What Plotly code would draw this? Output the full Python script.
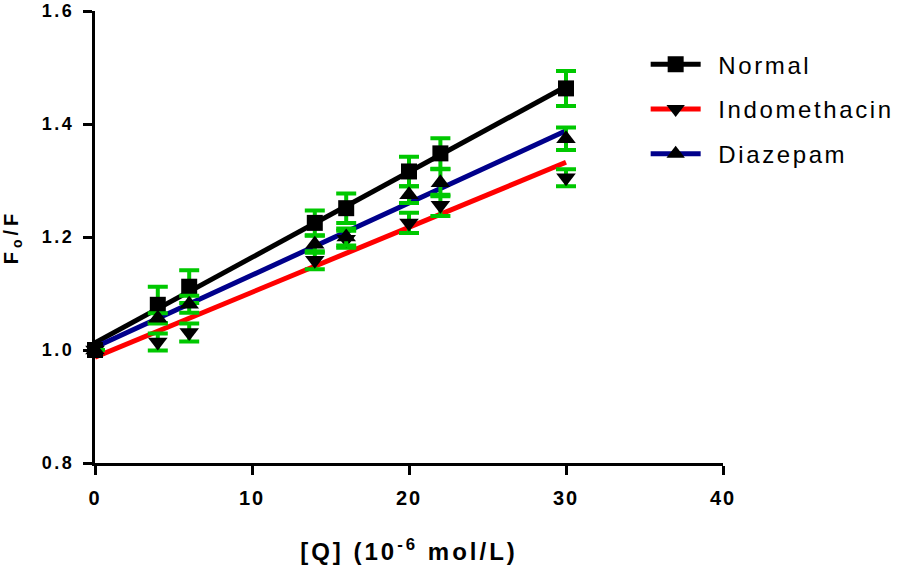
import numpy as np
import plotly.graph_objects as go

# ---- data ----
conc = [0, 4, 6, 14, 16, 20, 22, 30]
normal = [1.000, 1.080, 1.112, 1.225, 1.251, 1.316, 1.348, 1.463]
normal_err = [0, 0.032, 0.029, 0.022, 0.026, 0.026, 0.027, 0.031]
indo = [1.000, 1.014, 1.031, 1.159, 1.196, 1.225, 1.256, 1.305]
indo_err = [0, 0.015, 0.016, 0.016, 0.015, 0.018, 0.019, 0.015]
diaz = [1.000, 1.056, 1.081, 1.187, 1.200, 1.275, 1.296, 1.374]
diaz_err = [0, 0.009, 0.015, 0.015, 0.015, 0.015, 0.024, 0.020]

series_names = ["Normal", "Indomethacin", "Diazepam"]
series_values = [normal, indo, diaz]
series_errors = [normal_err, indo_err, diaz_err]
series_colors = ["#000000", "#FF0000", "#00008B"]
series_symbols = ["square", "triangle-down", "triangle-up"]

x_ticks = [0, 10, 20, 30, 40]
y_ticks = [0.8, 1.0, 1.2, 1.4, 1.6]
x_ticklabels = ["0", "10", "20", "30", "40"]
y_ticklabels = ["0.8", "1.0", "1.2", "1.4", "1.6"]

ERR_GREEN = "rgb(0,200,0)"
FONT = "Liberation Sans, Arial, sans-serif"


def spaced(t, px):
    return f'<span style="letter-spacing:{px}px">{t}</span>'


fig = go.Figure()

# fitted regression lines
xfit = np.array([min(conc), max(conc)], dtype=float)
for name, vals, col in zip(series_names, series_values, series_colors):
    slope, icpt = np.polyfit(conc, vals, 1)
    fig.add_trace(go.Scatter(
        x=xfit, y=slope * xfit + icpt, mode="lines",
        line=dict(color=col, width=5), showlegend=False,
        hoverinfo="skip", cliponaxis=False))

# data points with error bars
for name, vals, errs, sym in zip(series_names, series_values, series_errors, series_symbols):
    fig.add_trace(go.Scatter(
        x=conc, y=vals, mode="markers", name=name, showlegend=False,
        marker=dict(symbol=sym, size=16 if sym == "square" else 17, color="black",
                    line=dict(width=0)),
        error_y=dict(type="data", array=errs, visible=True, color=ERR_GREEN,
                     thickness=4, width=10),
        cliponaxis=False))

# legend entries
for i, (name, col, sym) in enumerate(zip(series_names, series_colors, series_symbols)):
    fig.add_trace(go.Scatter(
        x=[None], y=[None], mode="lines+markers",
        name='<span style="letter-spacing:6px">&nbsp;</span>' + spaced(name, 2.6),
        legendgroup=f"g{i}",
        line=dict(color=col, width=5),
        marker=dict(symbol=sym, size=16 if sym == "square" else 17, color="black")))

axis_common = dict(
    showline=True, linecolor="black", linewidth=3,
    ticks="outside", ticklen=9, tickwidth=3, tickcolor="black",
    showgrid=False, zeroline=False, mirror=False, automargin=False,
    ticklabeloverflow="allow",
)

fig.update_xaxes(
    range=[0, 40], tickvals=x_ticks,
    ticktext=[spaced(t, 2) for t in x_ticklabels],
    tickfont=dict(family=FONT, size=20, color="black", weight="bold"),
    ticklabelstandoff=6,
    title=dict(text=spaced("[Q] (10<sup>-6</sup> mol/L)", 3),
               font=dict(family=FONT, size=24, color="black", weight="bold"),
               standoff=36),
    **axis_common)
fig.update_yaxes(
    range=[0.8, 1.6], tickvals=y_ticks,
    ticktext=[spaced(t, 2.5) for t in y_ticklabels],
    tickfont=dict(family=FONT, size=18, color="black", weight="bold"),
    ticklabelstandoff=5,
    title=dict(text=spaced("F<sub>o</sub>/F", 4),
               font=dict(family=FONT, size=20, color="black", weight="bold"),
               standoff=22),
    **axis_common)

fig.update_layout(
    width=898, height=570,
    margin=dict(l=95, r=175, t=11, b=107, autoexpand=False),
    plot_bgcolor="white", paper_bgcolor="white",
    font=dict(family=FONT, color="black"),
    legend=dict(
        xref="container", yref="container",
        x=0.719, y=0.926, xanchor="left", yanchor="top",
        font=dict(family=FONT, size=24, color="black"),
        itemwidth=50, tracegroupgap=10.5, traceorder="grouped",
        bgcolor="rgba(0,0,0,0)"),
    showlegend=True,
)

fig.write_html("out.html", config={"displayModeBar": False},
               post_script="document.body.style.margin='0px';")
